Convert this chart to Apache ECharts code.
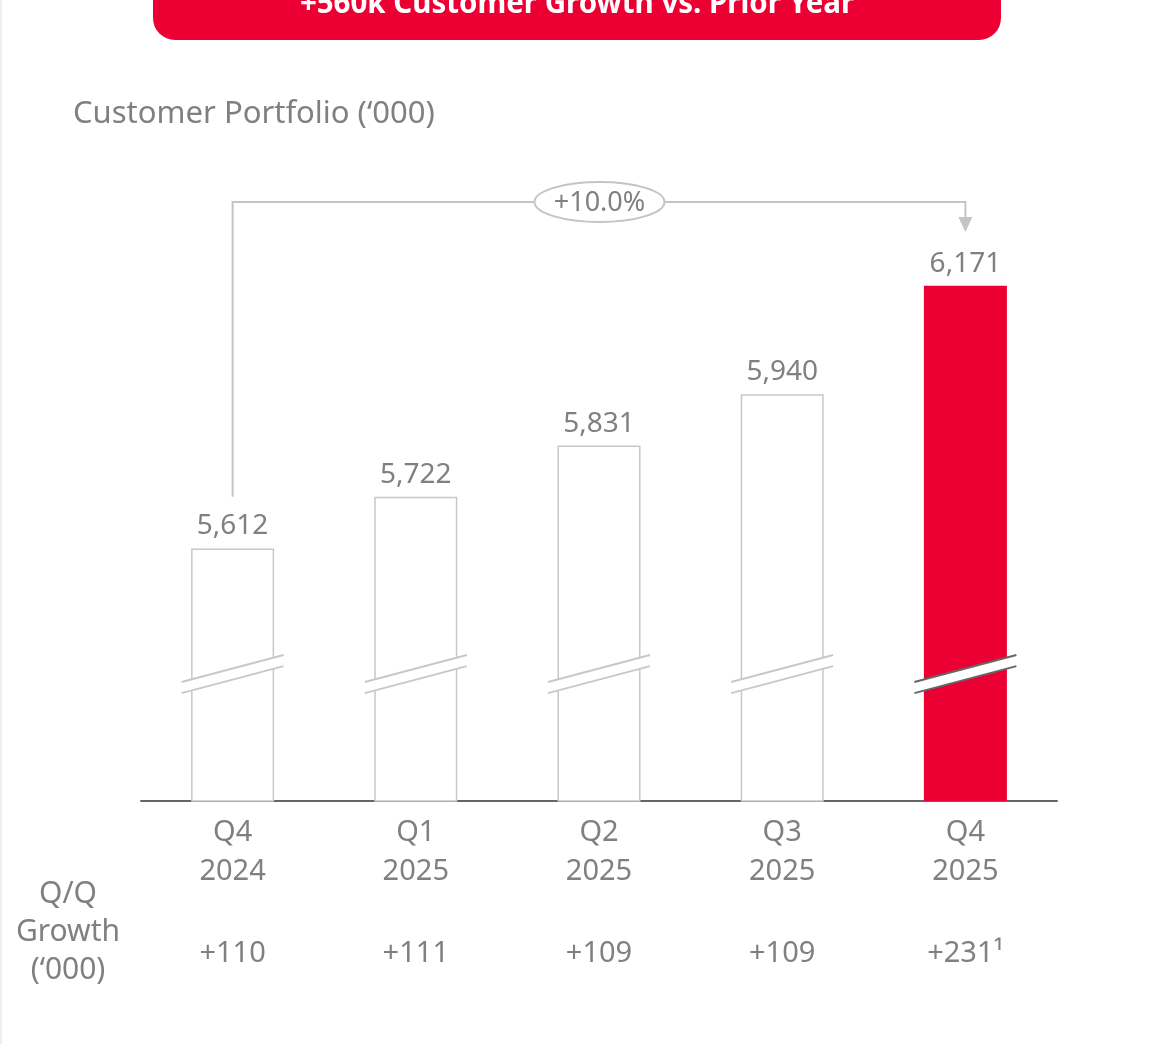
<!DOCTYPE html>
<html>
<head>
<meta charset="utf-8">
<script src="https://cdn.jsdelivr.net/npm/echarts@6/dist/echarts.min.js"></script>
<style>
  html, body { margin: 0; padding: 0; background: #fff; }
  #chart { width: 1153px; height: 1044px; }
</style>
</head>
<body>
<div id="chart"></div>
<script>
// 数据
const quarters = ["Q4", "Q1", "Q2", "Q3", "Q4"];
const years = ["2024", "2025", "2025", "2025", "2025"];
const customers = [5612, 5722, 5831, 5940, 6171];
const growth = ["+110", "+111", "+109", "+109", "+231¹"];
const yoyLabel = "+10.0%";
const bannerText = "+560k Customer Growth vs. Prior Year";
const subTitle = "Customer Portfolio (‘000)";
const rowTitle = "Q/Q\nGrowth\n(‘000)";
const breakValue = 5345; // 截断标记所在的位置
const highlightIndex = 4;

const RED = "#ec0033";
const GREY_TEXT = "#808080";
const FONT = "Noto Sans";

const categories = quarters.map((q, i) => q + "\n" + years[i]);

const chartDom = document.getElementById("chart");
const myChart = echarts.init(chartDom);

const barData = customers.map((v, i) => ({
  value: v,
  itemStyle: i === highlightIndex
    ? { color: RED, borderWidth: 0 }
    : { color: "#fff", borderColor: "#c8c8c8", borderWidth: 1.5 }
}));

const option = {
  animation: false,
  grid: { left: 141, right: 96, top: 178, bottom: 243 },
  xAxis: [
    {
      type: "category",
      data: categories,
      axisLine: { lineStyle: { color: "#666", width: 2 } },
      axisTick: { show: false },
      axisLabel: {
        color: GREY_TEXT, fontFamily: FONT, fontSize: 29,
        lineHeight: 39, margin: 12
      }
    },
    {
      type: "category",
      position: "bottom",
      offset: 126,
      data: growth,
      axisLine: { show: false },
      axisTick: { show: false },
      axisLabel: { color: GREY_TEXT, fontFamily: FONT, fontSize: 29, margin: 12 }
    }
  ],
  yAxis: { type: "value", min: 5075, max: 6400, show: false },
  series: [
    {
      type: "bar",
      data: barData,
      barWidth: 83,
      label: {
        show: true,
        position: "top",
        distance: 8,
        color: GREY_TEXT,
        fontFamily: FONT,
        fontSize: 28,
        formatter: (p) => p.value.toLocaleString("en-US")
      }
    },
    {
      // 柱子上的截断标记
      type: "custom",
      z: 5,
      data: customers.map((v, i) => [i, breakValue]),
      renderItem: (params, api) => {
        const c = api.coord([api.value(0), api.value(1)]);
        const hw = 51, rise = 13.5, gap = 5.6;
        const lineColor = params.dataIndex === highlightIndex ? "#666" : "#c8c8c8";
        const x1 = c[0] - hw, x2 = c[0] + hw;
        return {
          type: "group",
          children: [
            {
              type: "polygon",
              shape: { points: [[x1, c[1] + rise - gap], [x2, c[1] - rise - gap], [x2, c[1] - rise + gap], [x1, c[1] + rise + gap]] },
              style: { fill: "#fff" }
            },
            {
              type: "line",
              shape: { x1: x1, y1: c[1] + rise - gap, x2: x2, y2: c[1] - rise - gap },
              style: { stroke: lineColor, lineWidth: 2 }
            },
            {
              type: "line",
              shape: { x1: x1, y1: c[1] + rise + gap, x2: x2, y2: c[1] - rise + gap },
              style: { stroke: lineColor, lineWidth: 2 }
            }
          ]
        };
      }
    }
  ]
};

myChart.setOption(option);

// 标注：括号、箭头、标题等
const first = myChart.convertToPixel({ seriesIndex: 0 }, [1, customers[1]]);
const last = myChart.convertToPixel({ seriesIndex: 0 }, [highlightIndex, customers[highlightIndex]]);
const startX = myChart.convertToPixel({ seriesIndex: 0 }, [0, customers[0]])[0];
const bracketY = 202;
const midX = (startX + last[0]) / 2 + 0.5;

myChart.setOption({
  graphic: [
    { type: "line", shape: { x1: 1, y1: 0, x2: 1, y2: 1044 }, style: { stroke: "#e8e8e8", lineWidth: 1.5 } },
    {
      type: "rect", shape: { x: 153, y: -30, width: 848, height: 70, r: 22 },
      style: { fill: RED }
    },
    {
      type: "text", x: 577, y: 5,
      style: {
        text: bannerText, fill: "#fff", font: "bold 29.5px '" + FONT + "'",
        align: "center", verticalAlign: "middle"
      }
    },
    {
      type: "text", x: 73, y: 114,
      style: {
        text: subTitle, fill: GREY_TEXT, font: "31px '" + FONT + "'",
        align: "left", verticalAlign: "middle"
      }
    },
    {
      type: "text", x: 68, y: 932,
      style: {
        text: rowTitle, fill: GREY_TEXT, font: "30px '" + FONT + "'", lineHeight: 38,
        align: "center", verticalAlign: "middle"
      }
    },
    {
      type: "polyline",
      shape: { points: [[startX, first[1]], [startX, bracketY], [last[0], bracketY], [last[0], 219]] },
      style: { stroke: "#c4c4c4", lineWidth: 2, fill: null }
    },
    {
      type: "polygon",
      shape: { points: [[last[0] - 7, 217], [last[0] + 7, 217], [last[0], 232]] },
      style: { fill: "#c4c4c4" }
    },
    {
      type: "ellipse",
      shape: { cx: midX, cy: bracketY, rx: 65, ry: 20 },
      style: { fill: "#fff", stroke: "#c4c4c4", lineWidth: 2 }
    },
    {
      type: "text", x: midX, y: bracketY + 1,
      style: {
        text: yoyLabel, fill: GREY_TEXT, font: "27px '" + FONT + "'",
        align: "center", verticalAlign: "middle"
      }
    }
  ]
});

window.addEventListener("resize", () => myChart.resize());
</script>
</body>
</html>
